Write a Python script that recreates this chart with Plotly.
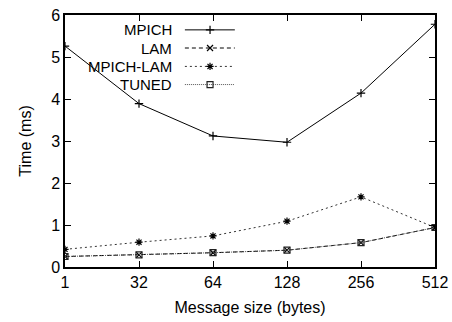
import plotly.graph_objects as go

sizes = ["1", "32", "64", "128", "256", "512"]
mpich = [5.26, 3.89, 3.12, 2.97, 4.14, 5.78]
lam = [0.25, 0.29, 0.34, 0.40, 0.58, 0.94]
mpich_lam = [0.42, 0.59, 0.74, 1.09, 1.67, 0.94]
tuned = [0.25, 0.29, 0.34, 0.40, 0.58, 0.94]

series = [
    ("MPICH", mpich, dict(color="black", width=1, dash="solid"), "cross-thin-open", "black"),
    ("LAM", lam, dict(color="black", width=1, dash="4px,3px"), "x-thin-open", "black"),
    ("MPICH-LAM", mpich_lam, dict(color="#333333", width=1, dash="2px,3px"), "asterisk-open", "black"),
    ("TUNED", tuned, dict(color="#555555", width=1, dash="1px,1px"), "square-open", "#222222"),
]

fig = go.Figure()
for name, vals, line, sym, mcol in series:
    fig.add_trace(go.Scatter(
        x=sizes, y=vals, mode="lines+markers", name=name, line=line,
        marker=dict(symbol=sym, size=6, color=mcol, line=dict(color=mcol, width=1.2)),
        showlegend=False,
    ))

# manual legend (text right-aligned, sample to the right), gnuplot style
leg_y = [0.941, 0.869, 0.796, 0.724]
for (name, vals, line, sym, mcol), yy in zip(series, leg_y):
    fig.add_trace(go.Scatter(
        x=[0.324, 0.459], y=[yy, yy], xaxis="x2", yaxis="y2", mode="lines",
        line=line, showlegend=False, hoverinfo="skip"))
    fig.add_trace(go.Scatter(
        x=[0.392], y=[yy], xaxis="x2", yaxis="y2", mode="markers",
        marker=dict(symbol=sym, size=6, color=mcol, line=dict(color=mcol, width=1.2)),
        showlegend=False, hoverinfo="skip"))
    fig.add_annotation(x=0.292, y=yy, xref="x2", yref="y2", text=name,
                       showarrow=False, xanchor="right", yanchor="middle",
                       borderpad=0,
                       font=dict(size=15, color="black"))

fig.update_layout(
    width=452, height=322,
    margin=dict(l=65, r=17, t=15, b=55),
    paper_bgcolor="white", plot_bgcolor="white",
    font=dict(family="Liberation Sans, Arial, sans-serif", color="black", size=16),
    xaxis=dict(
        type="category", range=[0, 5], showgrid=False, zeroline=False,
        showline=True, linecolor="black", linewidth=1.5, mirror="ticks",
        ticks="inside", ticklen=6, tickcolor="black", tickfont=dict(size=16),
        automargin=False,
        title=dict(text="Message size (bytes)", font=dict(size=16), standoff=12),
    ),
    yaxis=dict(
        range=[0, 6], dtick=1, showgrid=False, zeroline=False,
        showline=True, linecolor="black", linewidth=1.5, mirror="ticks",
        ticks="inside", ticklen=6, tickcolor="black", tickfont=dict(size=16),
        automargin=False,
        title=dict(text="Time (ms)", font=dict(size=16), standoff=16),
    ),
    xaxis2=dict(overlaying="x", range=[0, 1], visible=False),
    yaxis2=dict(overlaying="y", range=[0, 1], visible=False),
)

fig.write_html("out.html")
